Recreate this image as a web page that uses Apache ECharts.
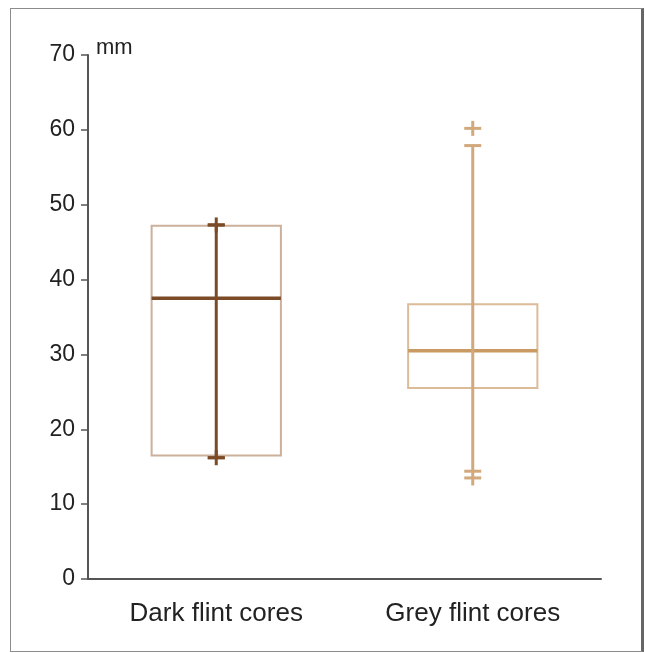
<!DOCTYPE html>
<html>
<head>
<meta charset="utf-8">
<script src="https://cdn.jsdelivr.net/npm/echarts@6/dist/echarts.min.js"></script>
<style>
  html, body { margin: 0; padding: 0; background: #fff; }
  #frame { position: absolute; left: 10px; top: 8px; width: 634px; height: 644px;
    border: 1.5px solid #8c8c8c; border-right: 3px solid #666; box-sizing: border-box; }
  #chart { position: absolute; left: 0; top: 0; width: 645px; height: 653px; }
</style>
</head>
<body>
<div id="frame"></div>
<div id="chart"></div>
<script>
const categories = ['Dark flint cores', 'Grey flint cores']
const q1 = [16.5, 25.5]
const median = [37.5, 30.5]
const q3 = [47.2, 36.7]
const whiskerLow = [16.2, 14.4]
const whiskerHigh = [47.3, 57.9]
const minVal = [16.2, 13.5]
const maxVal = [47.3, 60.2]

// colours per category: box edge, median, whisker
const palette = [
  { box: '#cbb09c', median: '#7b4b28', whisker: '#7b4b28' },
  { box: '#dcbc98', median: '#c99a62', whisker: '#d1a97c' }
]

const rows = categories.map((c, i) =>
  [i, q1[i], median[i], q3[i], whiskerLow[i], whiskerHigh[i], minVal[i], maxVal[i]])

const renderItem = (params, api) => {
  const i = api.value(0)
  const col = palette[i]
  const bandW = api.size([1, 0])[0]
  const halfBox = bandW * 0.252
  const x = api.coord([i, 0])[0]
  const y = v => api.coord([i, v])[1]
  const yQ1 = y(api.value(1)), yMed = y(api.value(2)), yQ3 = y(api.value(3))
  const yLo = y(api.value(4)), yHi = y(api.value(5))
  const yMin = y(api.value(6)), yMax = y(api.value(7))
  const dash = 8.5
  const children = [
    { type: 'rect', shape: { x: x - halfBox, y: yQ3, width: halfBox * 2, height: yQ1 - yQ3 },
      style: { fill: 'none', stroke: col.box, lineWidth: 2 } },
    { type: 'line', shape: { x1: x - halfBox, y1: yMed, x2: x + halfBox, y2: yMed },
      style: { stroke: col.median, lineWidth: 3.5 } },
    { type: 'line', shape: { x1: x, y1: yLo, x2: x, y2: yHi },
      style: { stroke: col.whisker, lineWidth: 3 } },
    // whisker end dashes
    { type: 'line', shape: { x1: x - dash, y1: yLo, x2: x + dash, y2: yLo },
      style: { stroke: col.whisker, lineWidth: 3 } },
    { type: 'line', shape: { x1: x - dash, y1: yHi, x2: x + dash, y2: yHi },
      style: { stroke: col.whisker, lineWidth: 3 } }
  ]
  // plus markers at min and max
  ;[yMin, yMax].forEach(yy => {
    children.push({ type: 'line', shape: { x1: x - dash, y1: yy, x2: x + dash, y2: yy },
      style: { stroke: col.whisker, lineWidth: 3 } })
    children.push({ type: 'line', shape: { x1: x, y1: yy - 7.5, x2: x, y2: yy + 7.5 },
      style: { stroke: col.whisker, lineWidth: 3 } })
  })
  return { type: 'group', children }
}

const chart = echarts.init(document.getElementById('chart'))
chart.setOption({
  animation: false,
  textStyle: { fontFamily: 'Liberation Sans, Arial, sans-serif' },
  grid: { left: 88, right: 44, top: 55, bottom: 74 },
  xAxis: {
    type: 'category',
    data: categories,
    axisLine: { lineStyle: { color: '#555', width: 2 } },
    axisTick: { interval: 0, length: 6, lineStyle: { color: '#555', width: 1.5 } },
    axisLabel: { fontSize: 26, color: '#222', margin: 22 }
  },
  yAxis: {
    type: 'value',
    min: 0,
    max: 70,
    interval: 10,
    name: 'mm',
    nameLocation: 'end',
    nameGap: -4,
    nameTextStyle: { fontSize: 22, color: '#222', align: 'left', verticalAlign: 'bottom', padding: [0, 0, 0, 8] },
    axisLine: { show: true, lineStyle: { color: '#555', width: 2 } },
    axisTick: { show: true, length: 7, lineStyle: { color: '#555', width: 1.5 } },
    axisLabel: { fontSize: 23, color: '#222', margin: 13 },
    splitLine: { show: false }
  },
  series: [{
    type: 'custom',
    renderItem: renderItem,
    data: rows,
    encode: { x: 0, y: [1, 2, 3, 4, 5, 6, 7] }
  }]
})
</script>
</body>
</html>
